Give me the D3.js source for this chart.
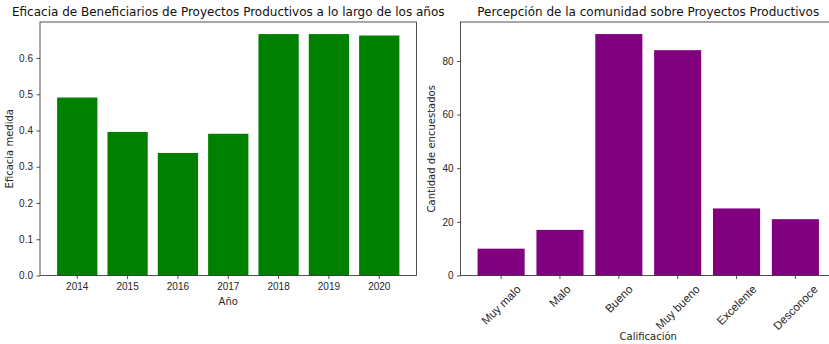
<!DOCTYPE html>
<html>
<head>
<meta charset="utf-8">
<script src="https://cdn.jsdelivr.net/npm/d3@7"></script>
<style>
  body { margin: 0; background: #fff; }
  svg { font-family: "DejaVu Sans", sans-serif; }
  .axis text { font-size: 10px; fill: #262626; }
  .axis path, .axis line { stroke: #262626; stroke-width: 0.8; }
</style>
</head>
<body>
<div id="chart"></div>
<script>
// left chart
var years = ["2014", "2015", "2016", "2017", "2018", "2019", "2020"];
var eficacia = [0.491, 0.396, 0.338, 0.391, 0.666, 0.666, 0.662];
var eficaciaTicks = [0, 0.1, 0.2, 0.3, 0.4, 0.5, 0.6];

// right chart
var calificaciones = ["Muy malo", "Malo", "Bueno", "Muy bueno", "Excelente", "Desconoce"];
var encuestados = [10, 17, 90, 84, 25, 21];
var encuestadosTicks = [0, 20, 40, 60, 80];

var width = 829, height = 344;
var svg = d3.select("#chart").append("svg")
    .attr("width", width)
    .attr("height", height);

function drawPanel(opt) {
  var x = d3.scaleBand()
      .domain(opt.cats)
      .range([opt.left, opt.right])
      .paddingInner(0.2)
      .paddingOuter(opt.outer);
  var y = d3.scaleLinear()
      .domain([0, d3.max(opt.values) * 1.05])
      .range([opt.bottom, opt.top]);

  var g = svg.append("g");

  g.selectAll("rect")
      .data(opt.values)
      .enter().append("rect")
      .attr("x", function(d, i) { return x(opt.cats[i]); })
      .attr("width", x.bandwidth())
      .attr("y", function(d) { return y(d); })
      .attr("height", function(d) { return opt.bottom - y(d); })
      .attr("fill", opt.color);

  // spines
  var clipRight = Math.min(opt.right, width + 5);
  g.append("rect")
      .attr("x", opt.left)
      .attr("y", opt.top)
      .attr("width", clipRight - opt.left)
      .attr("height", opt.bottom - opt.top)
      .attr("fill", "none")
      .attr("stroke", "#262626")
      .attr("stroke-width", 0.8);

  var ax = g.append("g")
      .attr("class", "axis")
      .attr("transform", "translate(0," + opt.bottom + ")")
      .call(d3.axisBottom(x).tickSize(3.5).tickPadding(3.5).tickSizeOuter(0));
  ax.select(".domain").remove();

  if (opt.rotate) {
    ax.selectAll(".tick text").each(function() {
      var t = d3.select(this).style("font-size", "11.5px");
      var w = this.getComputedTextLength();
      var h = 11.5 * 1.16;
      var off = (w + h) / (2 * Math.SQRT2);
      t.attr("y", null).attr("dy", null)
        .attr("dominant-baseline", "central")
        .attr("text-anchor", "middle")
        .attr("transform", "translate(0," + (7 + off) + ") rotate(-45)");
    });
  }

  var ay = g.append("g")
      .attr("class", "axis")
      .attr("transform", "translate(" + opt.left + ",0)")
      .call(d3.axisLeft(y).tickValues(opt.ticks).tickFormat(opt.fmt)
        .tickSize(3.5).tickPadding(3.5).tickSizeOuter(0));
  ay.select(".domain").remove();

  svg.append("text")
      .attr("x", (opt.left + opt.right) / 2)
      .attr("y", opt.top - 6)
      .attr("text-anchor", "middle")
      .attr("font-size", 12)
      .attr("fill", "#111")
      .text(opt.title);

  svg.append("text")
      .attr("x", (opt.left + opt.right) / 2)
      .attr("y", opt.xlabelY)
      .attr("text-anchor", "middle")
      .attr("dominant-baseline", "central")
      .attr("font-size", 10)
      .attr("fill", "#262626")
      .text(opt.xlabel);

  svg.append("text")
      .attr("transform", "translate(" + opt.ylabelX + "," + ((opt.top + opt.bottom) / 2) + ") rotate(-90)")
      .attr("text-anchor", "middle")
      .attr("dominant-baseline", "central")
      .attr("font-size", 10)
      .attr("fill", "#262626")
      .text(opt.ylabel);
}

drawPanel({
  cats: years, values: eficacia, ticks: eficaciaTicks, fmt: d3.format(".1f"),
  left: 40, right: 416.5, top: 22, bottom: 275.5, outer: 0.34,
  color: "green", rotate: false,
  title: "Eficacia de Beneficiarios de Proyectos Productivos a lo largo de los años",
  xlabel: "Año", xlabelY: 301, ylabel: "Eficacia medida", ylabelX: 9
});

drawPanel({
  cats: calificaciones, values: encuestados, ticks: encuestadosTicks, fmt: d3.format("d"),
  left: 460.5, right: 836, top: 22, bottom: 275.5, outer: 0.29,
  color: "purple", rotate: true,
  title: "Percepción de la comunidad sobre Proyectos Productivos",
  xlabel: "Calificación", xlabelY: 336, ylabel: "Cantidad de encuestados", ylabelX: 431
});
</script>
</body>
</html>
